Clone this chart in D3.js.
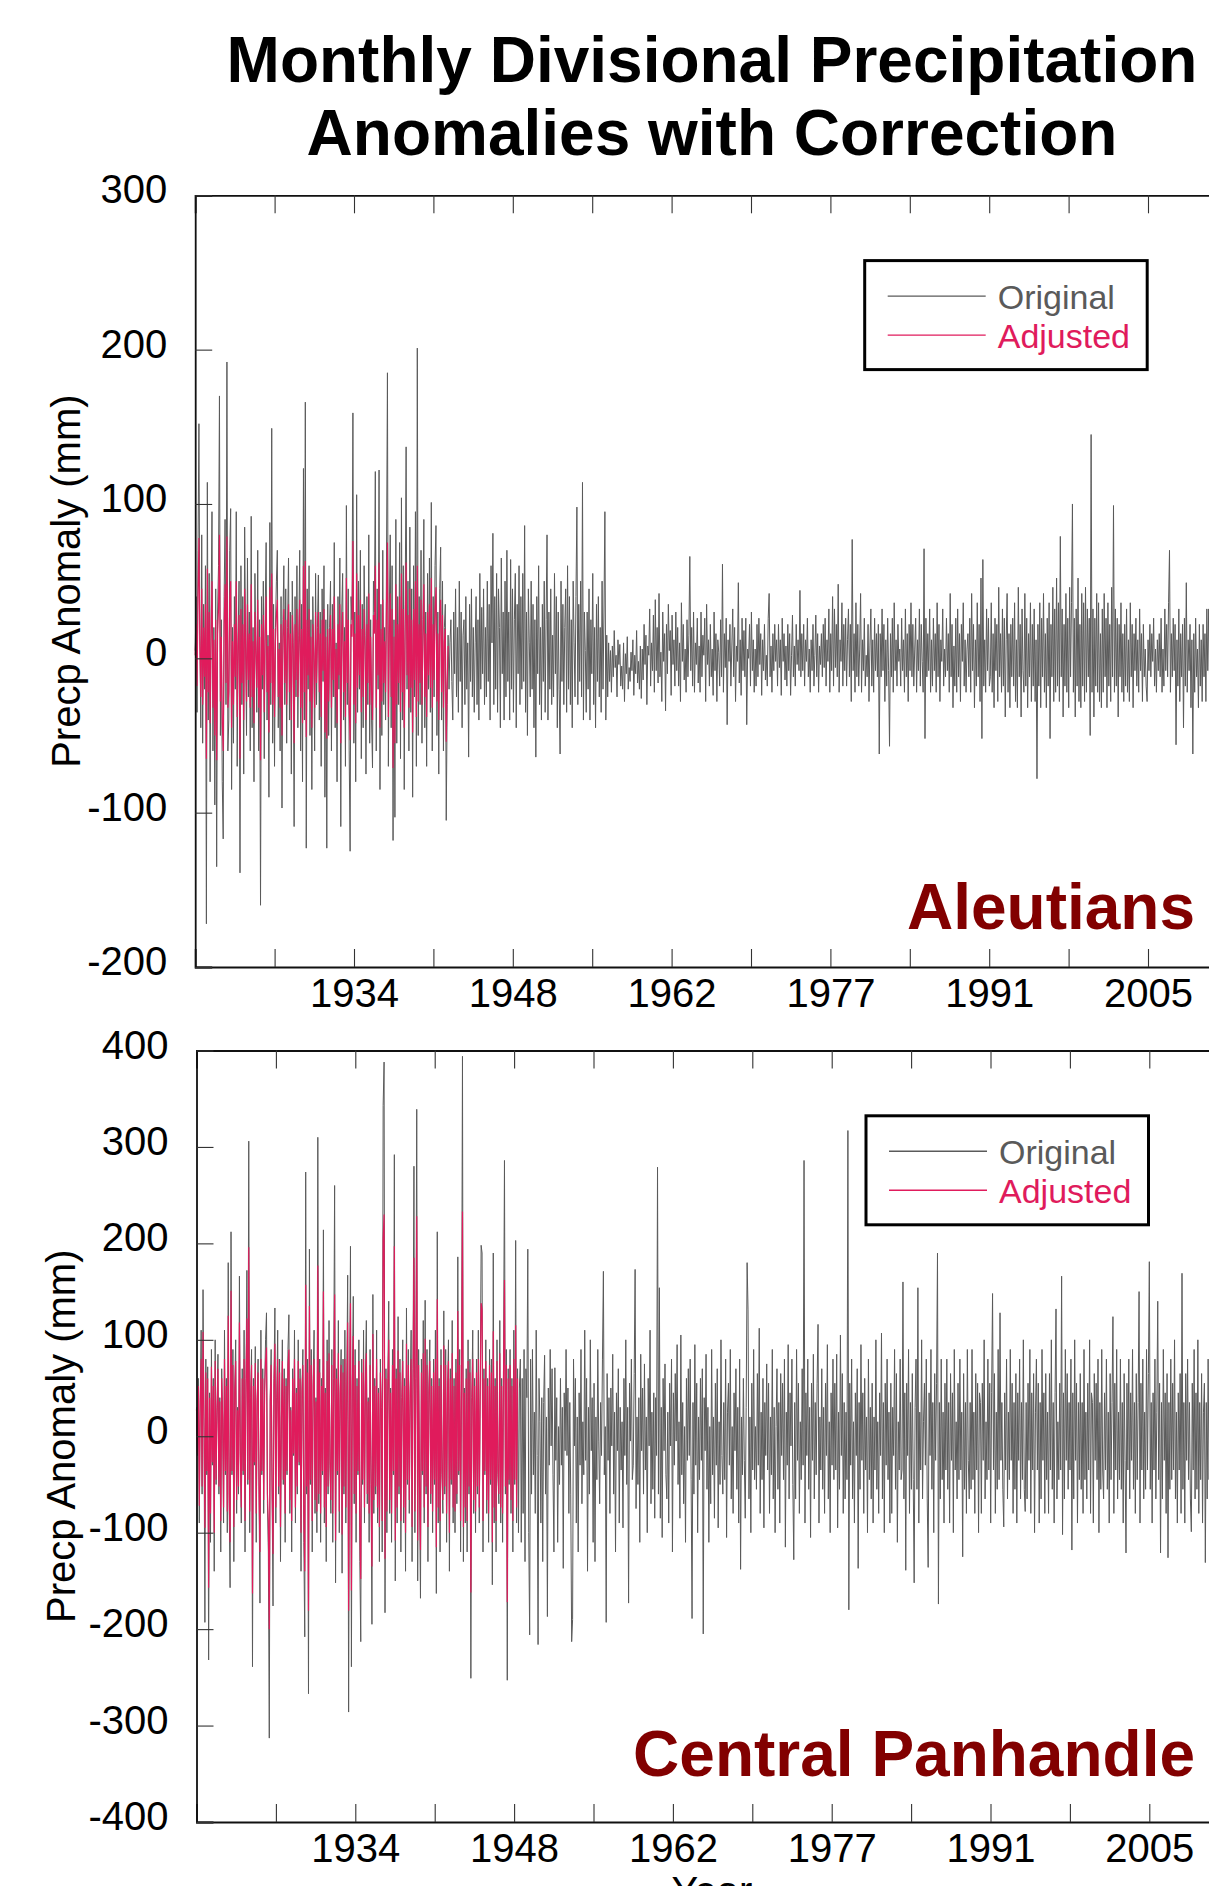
<!DOCTYPE html>
<html>
<head>
<meta charset="utf-8">
<script src="https://d3js.org/d3.v7.min.js"></script>
<style>
  html, body { margin: 0; padding: 0; background: #fff; }
  svg { display: block; font-family: "Liberation Sans", Arial, Helvetica, sans-serif; }
</style>
</head>
<body>
<div id="chart"></div>
<script>
/* Monthly anomalies (mm), one row per year, Jan..Dec, starting Jan 1920 */
var START_YEAR = 1920;

var tickYears = [1927.09, 1934.18, 1941.27, 1948.36, 1955.45, 1962.54,
                 1969.63, 1976.72, 1983.81, 1990.90, 1997.99, 2005.08];
var tickLabels = ['', '1934', '', '1948', '', '1962', '', '1977', '', '1991', '', '2005'];

var aleYTicks = [-200, -100, 0, 100, 200, 300];
var cpYTicks = [-400, -300, -200, -100, 0, 100, 200, 300, 400];

var seriesNames = ['Original', 'Adjusted'];

var aleOriginal = [
  5, 40, -35, 70, 152, 15, -45, 80, -55, 35, -20, 60,
  -172, 114, -40, 55, -80, 30, 95, -60, 20, -95, 45, -135,
  30, 60, 170, -50, 25, -80, -117, 40, 90, -30, 192, -60,
  -40, 70, 97, -85, 20, -55, 40, -20, 95, -70, 15, 50,
  -139, 60, -30, 40, -75, 85, 10, -50, 65, -25, 30, -60,
  92, -45, 20, -80, 55, 5, -35, 70, -60, 25, -160, 40,
  -20, 50, -65, 30, 75, -40, 15, -90, 88, -30, 149, -55,
  35, -70, 20, 50, 70, -45, 10, -60, 40, -97, 25, 60,
  -30, 45, -55, 20, 65, -40, 30, -75, 50, 10, -109, 40,
  -25, 60, -45, 15, 70, -60, 35, -80, 123, -40, 166, -123,
  45, -20, 60, -50, 25, -85, 40, 5, -60, 55, -30, 20,
  54, -40, 30, -70, 45, -15, 60, -90, 25, -123, 35, -50,
  20, 50, -60, 35, -25, 75, -45, 10, -80, 40, -20, 65,
  -109, 30, 55, -40, 20, -70, 99, -30, 45, -60, -125, 40,
  25, 159, -55, 30, -80, 106, -35, 50, -20, 70, -65, 35,
  -45, 60, 15, -75, 40, -30, 80, -55, 25, -40, -71, 50,
  30, 121, -60, 45, -20, 122, -85, 35, -50, 70, -30, 20,
  -40, 65, 185, -70, 30, 80, -45, 60, -118, 25, -103, 90,
  -55, 40, -30, 75, -65, 104, -40, 60, -85, 35, 137, -20,
  50, -60, 85, -35, 45, -90, 60, -25, 95, -70, 201, -50,
  40, -30, 70, -55, 25, 90, -45, 30, -70, 55, -20, 65,
  -35, 101, -60, 40, -25, 60, 86, -50, 30, -75, 45, 72,
  -40, 50, -60, 20, 35, -105, -30, 15, -20, 10, 25, -15,
  -40, 30, -10, 45, -25, 20, -35, 50, -15, 30, -45, 15,
  25, -30, 40, -20, 10, -64, 35, -15, 45, -25, 20, -35,
  10, 40, -30, 25, -40, 55, -20, 33, -10, 45, -30, 20,
  -25, 50, -15, 35, -40, 60, 10, 81, -30, 40, -20, 55,
  -35, 45, 20, -45, 65, -10, 30, -40, 50, -25, 70, -15,
  30, -40, 64, -20, 45, -35, 25, 55, -45, 35, -10, 60,
  -30, 40, -20, 55, -15, 86, -35, 30, -50, 45, 10, -25,
  50, -20, 35, -45, 25, -64, 40, -10, 60, -30, 20, -40,
  35, -15, 50, -35, 25, 80, -40, 30, -20, 45, -30, 15,
  -25, 55, -10, 40, -45, 30, -20, -62, 50, -15, 35, -30,
  20, 45, -35, 60, -20, 40, -30, 25, -45, 50, 10, -25,
  40, 98, -30, 35, -15, 50, -25, 114, -40, 30, 5, -35,
  30, -20, 45, -40, 25, -10, 55, -30, 20, -45, 35, -15,
  40, -25, 20, -35, 50, -20, 30, 95, -40, 15, -25, 10,
  -15, 5, -22, 8, -12, 18, -6, 2, -25, 12, -4, 9,
  -18, -5, -20, 10, -28, 3, -10, 14, -20, -6, -15, 4,
  -8, 12, -24, 2, -10, 18, -16, -2, -20, 8, -26, 6,
  -14, 22, -4, 15, -30, 8, 2, 32, -18, 10, -8, 28,
  -22, 38, -8, 20, -16, 42, -12, 4, -28, 30, -2, 16,
  -34, 22, -10, 35, 5, 18, -24, 28, -4, 12, -18, 30,
  -8, 20, -18, 10, -28, 36, -2, 22, -14, 6, -22, 25,
  -12, 15, 66, -8, 20, -18, 30, -22, 10, -4, 26, -16,
  8, -22, 30, -12, 15, 2, 26, -28, 35, -4, 12, -18,
  22, -12, 6, -24, 30, -8, 16, -28, 12, 4, -18, 25,
  -12, 61, -22, 16, -6, 26, -43, 12, -2, 22, -18, 8,
  32, -12, 20, -28, 8, -2, 49, -16, 12, -24, 26, -8,
  18, -12, 26, -43, 6, 0, 22, -18, 30, -8, 12, -22,
  6, -18, 22, -12, 26, -4, 16, -24, 12, -8, 22, -14,
  2, -18, 26, 42, -12, 8, -22, 16, -8, 22, -2, 12,
  -18, 22, -6, 12, -24, 26, -2, 16, -14, 8, -18, 22,
  -8, 16, -24, 2, 28, -12, 8, -18, 22, -4, 12, -8,
  44, -12, 16, -8, 22, -18, 12, -2, 26, -12, 6, -22,
  12, -8, 22, -18, 2, 28, -12, 16, -22, 8, -4, 16,
  -12, 22, -6, 26, -18, 12, -2, 32, -22, 16, -8, 40,
  -18, 32, -6, 22, -12, 48, -22, 12, -2, 36, -18, 22,
  -8, 26, -18, 12, 32, -12, 22, -28, 77, -8, 16, -22,
  36, -12, 22, -18, 6, 42, -22, 12, -8, 26, -18, 2,
  -12, 22, -28, 8, 32, -18, 12, -22, 26, -8, 16, -12,
  22, -62, 16, -12, 32, -8, 22, -28, 12, -18, 26, -8,
  -57, 16, -12, 26, -22, 36, -8, 12, -18, 22, -2, 6,
  -18, 26, -8, 12, -22, 32, -12, 16, -28, 22, -8, 36,
  -12, 22, -18, 6, 26, -22, 12, -8, 32, -18, 22, -2,
  -22, 71, -52, 26, -12, 16, -8, 32, -22, 12, -18, 26,
  -8, 16, -22, 36, -12, 22, -28, 12, -2, 32, -18, 6,
  -12, 26, -8, 16, -22, 42, -12, 22, -32, 8, -18, 26,
  -22, 32, -12, 16, -28, 22, -2, 36, -18, 12, -22, 6,
  16, -12, 26, -22, 42, -8, 22, -32, 12, -18, 36, -12,
  22, -28, 52, -52, 64, -18, 12, -22, 32, -8, 26, -18,
  -12, 36, -22, 16, -32, 26, -8, 22, -28, 46, -12, 16,
  -22, 32, -18, 26, -38, 12, 42, -22, 16, -32, 22, -12,
  26, -18, 36, -28, 12, -32, 46, -12, 22, -38, 32, -8,
  -22, 42, -18, 26, -32, 16, -12, 36, -28, 22, -18, 32,
  -28, 12, -78, 22, -18, 36, -32, 26, -12, 42, -22, 16,
  -32, 26, -18, 36, -52, 22, -12, 46, -28, 32, -22, 52,
  -18, 36, -28, 79, -12, 32, -38, 22, -18, 42, -22, 26,
  -32, 46, -12, 36, 100, -22, 26, -38, 32, -18, 52, -28,
  22, -32, 42, -18, 36, -28, 46, -22, 32, -12, 26, -50,
  145, -22, 32, -38, 26, -18, 42, -22, 36, -28, 16, -32,
  32, -22, 42, -12, 26, -32, 36, -18, 22, -28, 46, -12,
  99, -22, 32, -18, 26, -38, 22, -12, 36, -22, 16, -28,
  22, -18, 32, -22, 12, -28, 36, -12, 22, -32, 16, -8,
  26, -18, 12, -22, 32, -8, 16, -28, 22, -12, 6, -18,
  -28, 12, -8, 22, -12, 16, -2, 26, -18, 6, -22, 12,
  -8, 16, -12, 26, -22, 6, -18, 32, -8, 22, -12, 36,
  70, -22, 16, -12, 26, -8, 22, -56, 12, -18, 32, -28,
  16, -12, 22, -45, 26, -18, 49, -22, 12, -8, 22, -32,
  12, -62, 16, -22, 26, -12, 6, -32, 22, -18, 12, -28,
  22, -12, 16, -28, 32, -8, 32, -18, 22, -12, 26, -22
];

var aleAdjusted = [
  2, 22, -18, 40, 78, 8, -25, 45, -30, 20, -12, 35,
  -65, 58, -22, 30, -42, 16, 50, -32, 12, -50, 25, -66,
  16, 32, 80, -28, 14, -42, -60, 22, 48, -16, 79, -32,
  -22, 38, 50, -45, 11, -30, 22, -12, 50, -38, 8, 28,
  -65, 32, -16, 22, -40, 45, 6, -28, 35, -14, 16, -32,
  48, -25, 11, -42, 30, 3, -19, 38, -32, 14, -66, 22,
  -11, 28, -35, 16, 40, -22, 8, -48, 46, -16, 55, -30,
  19, -38, 11, 28, 38, -25, 6, -32, 22, -50, 14, 32,
  -16, 25, -30, 11, 35, -22, 16, -40, 28, 6, -55, 22,
  -14, 32, -25, 8, 38, -32, 19, -42, 60, -22, 63, -51,
  25, -11, 32, -28, 14, -45, 22, 3, -32, 30, -16, 11,
  30, -22, 16, -38, 25, -8, 32, -48, 14, -52, 19, -28,
  11, 28, -32, 19, -14, 40, -25, 6, -42, 22, -11, 35,
  -55, 16, 30, -22, 11, -38, 52, -16, 25, -32, -53, 22,
  14, 76, -30, 16, -42, 55, -19, 28, -11, 38, -35, 19,
  -25, 32, 8, -40, 22, -16, 42, -30, 14, -22, -40, 28,
  16, 60, -32, 25, -11, 62, -45, 19, -28, 38, -16, 11,
  -22, 35, 75, -38, 16, 42, -25, 32, -71, 14, -55, 48,
  -30, 22, -16, 40, -35, 55, -22, 32, -45, 19, 62, -11,
  28, -32, 45, -19, 25, -48, 32, -14, 50, -38, 60, -28,
  22, -16, 38, -30, 14, 48, -25, 16, -38, 30, -11, 35,
  -19, 52, -32, 22, -14, 32, 46, -28, 16, -40, 25, 38,
  -22, 28, -32, 11, 19, -54, -16, 8
];

var cpOriginal = [
  30, -20, 60, -90, 40, 110, -60, 152, 20, -193, 80, -40,
  72, -232, 45, -110, 90, -30, 60, -140, 100, -50, 30, 85,
  -60, 40, -120, 70, 20, -90, 110, -40, 60, -100, 180, -70,
  -157, 212, -40, 90, -130, 50, 100, -80, 30, -60, 166, -20,
  -90, 70, -40, 110, -120, 60, 172, -50, 306, -100, 40, 90,
  -239, 60, -30, 93, -110, 40, 80, -60, -173, 110, -40, 70,
  -80, 50, 100, 128, -70, -120, -313, 40, 90, -60, -176, 60,
  133, -90, 40, 110, -60, 80, -130, 20, 100, -50, 70, -110,
  60, -40, 90, 126, -80, 30, -120, 70, -20, 110, -90, 50,
  -60, 100, -30, 70, -140, 50, 90, -110, -208, 274, -60, 80,
  -267, 194, -50, 90, -120, 60, 110, -80, 40, -100, 310, -70,
  80, -110, 60, -40, 214, -90, 50, -130, 100, -60, 120, -30,
  -80, 90, -110, 60, 260, -152, 70, -40, 120, -100, 50, 90,
  -142, 80, -60, 110, -90, 50, 167, -286, 40, 197, -239, 60,
  145, -70, 90, -110, 60, -40, 100, -130, -213, 80, -50, 110,
  -90, 60, 120, -70, 40, -110, 90, -50, -195, 147, -80, 60,
  -60, 110, -90, 50, -130, 80, 30, -120, 343, 388, -183, 70,
  -100, 60, 140, -80, 50, -110, 90, -40, 292, -150, 70, -90,
  124, -60, 80, -120, 40, 100, -90, 60, -140, 133, -50, 90,
  -80, 50, 110, -130, 70, 280, -100, 60, 339, -150, 90, -60,
  -168, 80, -40, 120, -90, 141, -60, 90, -130, 50, 100, -70,
  60, -100, 80, -50, 110, -163, 212, -90, 60, -120, 90, -40,
  -80, 130, -60, 90, -110, 50, 100, -140, 70, -50, 120, -90,
  60, -100, 80, -70, 186, -40, 90, -120, 60, 394, -130, 50,
  -90, 70, -120, 100, -60, 80, -251, 40, 110, -80, 60, -100,
  80, -60, 110, -90, 50, 198, 190, -120, 70, -40, 100, -80,
  60, -110, 90, -50, 80, -154, 190, -90, 60, -120, 100, -40,
  -70, 120, -90, 60, -110, 80, 286, -60, 90, -253, 70, -50,
  90, -80, 60, -120, 110, -50, 203, -90, 70, -100, 50, 80,
  -110, 60, -80, 90, -130, 70, 40, 194, -100, -206, 80, -60,
  90, -40, 25, -80, 110, -20, -216, 60, 15, -90, 40, -130,
  35, 84, -60, 20, -187, 50, -30, 90, -10, 70, -40, -120,
  71, -25, 40, -110, 10, -50, 60, -30, 30, -137, 45, -15,
  90, -20, 50, -80, 35, -60, -213, -190, 80, -10, 60, -90,
  20, -120, 45, -30, 90, -70, 15, -40, 110, -25, 60, -140,
  30, -60, 100, -15, 40, -110, 55, -130, 20, -45, 90, -5,
  -70, 35, -20, 80, 171, -40, 10, -193, 65, -25, 40, -80,
  50, -10, 85, -60, 25, -120, 45, -15, 70, -90, 30, -35,
  15, -95, 60, -20, 100, -50, 30, -173, 55, -5, 80, -45,
  -30, 65, 173, -75, 20, -50, 40, -110, 85, -15, 50, -60,
  75, -35, 20, -100, 60, -10, 110, -70, 25, -55, 45, -85,
  40, -20, 279, -60, 154, -85, 30, -105, 60, -15, 75, -40,
  -65, 25, -90, 55, -10, 80, -120, 45, -30, 65, -5, 95,
  -50, 15, -85, 105, -40, 35, -70, 10, -110, 60, -25, 70,
  -20, 80, -45, -189, 35, -60, 95, -30, 55, -100, 20, -45,
  60, -25, 70, -205, 40, -15, 85, -55, 30, -110, 10, -70,
  90, -40, 20, -85, 55, -30, 70, -95, 15, -50, 100, -20,
  -60, 35, -45, 80, -105, 25, 55, -30, 90, -65, 10, -80,
  45, -15, 70, -55, 30, -90, 80, -138, 20, -40, 60, -25,
  -85, 30, 180, 131, -65, 20, -100, 55, -35, 90, -45, 10,
  -55, 65, -30, 112, -80, 25, -45, 60, -95, 35, -20, 75,
  -35, 55, -80, 20, -40, 90, -65, 30, -100, 10, 70, -55,
  35, -90, 65, -20, 55, -45, 80, -115, 25, -30, 95, -65,
  45, -10, 80, -50, -128, 35, -65, 90, -25, 55, -80, 15,
  -45, 70, -30, 286, -90, 45, -20, 80, -55, 30, -105, 55,
  -25, 85, -65, 35, -40, 55, 116, -90, 20, -35, 70, -55,
  30, -80, 55, -20, 95, -65, 15, -100, 45, -30, 80, -45,
  55, -35, 85, -95, 25, -55, 105, -20, 65, -80, 35, -65,
  25, -45, 317, -180, 55, -30, 80, -65, 15, -90, 45, -20,
  70, -137, 35, -55, 95, -25, 45, -80, 60, -35, 20, -100,
  80, -45, 30, -65, 55, -90, 20, -35, 100, -55, 15, -80,
  45, -20, 107, -65, 35, -100, 55, -30, 80, -45, 25, -90,
  55, -80, 30, -20, 90, -55, 65, -110, 15, -35, 80, -45,
  -35, 160, -65, 45, -139, 55, -20, 90, -80, 35, -55, 65,
  -45, -152, 30, 80, -55, 154, -90, 25, -35, 100, -65, 15,
  55, -30, 80, -65, -136, 45, -20, 90, -55, 35, -100, 65,
  -25, 55, 190, -174, 35, -65, 80, -45, 25, -90, 55, -35,
  80, -55, 35, -90, 65, -25, 45, -100, 90, -35, 15, -65,
  55, -45, 80, -35, 25, -125, 65, -55, 35, -80, 90, -25,
  -65, 35, -55, 90, -45, 25, -80, 65, -35, 55, -100, 45,
  35, -80, 55, -25, 100, -65, 15, -45, 80, -35, 55, -90,
  45, 148, -35, 65, -80, 25, -55, 90, -45, 128, -25, 35,
  -55, -94, 45, -35, 80, -65, 25, -45, 90, -25, 55, -80,
  35, -55, 65, -90, 45, -25, 80, -65, 35, -45, 100, -55,
  -78, 35, -65, 55, -25, 90, -80, 45, -35, 65, -100, 25,
  80, -35, 55, -90, 35, -65, 90, -25, 45, -80, 65, -45,
  25, -80, 65, -35, 100, -55, 35, -90, 45, 132, -65, 15,
  -45, 55, -35, 166, -102, 45, -65, 90, -25, 65, -55, 35,
  -35, 80, -118, 45, -65, 100, -25, 55, -90, 35, -45, 65,
  -55, 35, -80, 90, -45, 25, -65, 55, -35, 100, -80, 45,
  35, -90, 65, -25, 55, -45, 80, -100, 35, -55, 90, -35,
  -65, 45, -35, 80, -55, 25, -90, 65, -45, 35, 124, -80,
  55, -35, 90, -65, 25, -45, 80, -55, 35, -90, 65, -25,
  -121, 55, -35, 80, -65, 45, -25, 90, -55, 35, -80, 65,
  -45, 35, 150, -90, 55, -35, 80, -65, 25, -55, 90, -35,
  65, 181, -55, 35, -90, 45, -35, 80, -65, 25, 140, -45,
  55, -121, 35, -65, 90, -25, 45, -80, 65, -126, 35, -55,
  80, -45, 55, -35, 100, -65, 25, -90, 45, -35, 65, -80,
  169, -55, 35, -90, 65, -25, 80, -45, 35, -65, -99, 55,
  -35, 90, -65, 45, -55, 100, -80, 35, -45, 65, -90, 25,
  55, -131, 35, -65, 80, -45, 25, -55, 65, -35, 45, -80
];

var cpAdjusted = [
  28, -18, 52, -72, 36, 80, -52, 108, 18, -95, 66, -36,
  60, -157, 40, -80, 72, -27, 52, -100, 78, -45, 27, 70,
  -52, 36, -88, 60, 18, -74, 80, -36, 52, -78, 125, -60,
  -110, 151, -36, 74, -94, 45, 78, -66, 27, -52, 118, -18,
  -74, 60, -36, 80, -88, 52, 122, -45, 196, -78, 36, 74,
  -163, 52, -27, 76, -80, 36, 66, -52, -120, 80, -36, 60,
  -66, 45, 78, 92, -60, -88, -200, 36, 74, -52, -122, 52,
  96, -74, 36, 80, -52, 66, -94, 18, 78, -45, 60, -80,
  52, -36, 74, 90, -66, 27, -88, 60, -18, 80, -74, 45,
  -52, 78, -27, 60, -100, 45, 74, -80, -140, 157, -52, 66,
  -181, 135, -45, 74, -88, 52, 80, -66, 36, -78, 177, -60,
  66, -80, 52, -36, 150, -74, 45, -94, 78, -52, 86, -27,
  -66, 74, -80, 52, 147, -108, 60, -36, 86, -78, 45, 74,
  -102, 66, -52, 80, -74, 45, 118, -181, 36, 138, -160, 52,
  104, -60, 74, -80, 52, -36, 78, -94, -148, 66, -45, 80,
  -74, 52, 86, -60, 36, -80, 74, -45, -135, 106, -66, 52,
  -52, 80, -74, 45, -94, 66, 27, -88, 205, 230, -127, 60,
  -78, 52, 100, -66, 45, -80, 74, -36, 197, -108, 60, -74,
  89, -52, 66, -88, 36, 78, -74, 52, -100, 96, -45, 74,
  -66, 45, 80, -94, 60, 185, -78, 52, 228, -108, 74, -52,
  -118, 66, -36, 86, -74, 101, -52, 74, -94, 45, 78, -60,
  52, -78, 66, -45, 80, -115, 142, -74, 52, -88, 74, -36,
  -66, 94, -52, 74, -80, 45, 78, -100, 60, -45, 86, -74,
  52, -78, 66, -60, 130, -36, 74, -88, 52, 233, -94, 45,
  -74, 60, -88, 78, -52, 66, -162, 36, 80, -66, 52, -78,
  66, -52, 80, -74, 45, 138, 132, -88, 60, -36, 78, -66,
  52, -80, 74, -45, 66, -110, 109, -74, 52, -88, 78, -36,
  -60, 86, -74, 52, -80, 66, 162, -52, 74, -172, 60, -45,
  74, -66, 52, -88, 80, -45, 115, -74, 60
];

var COLOR_ORIG = '#5a5a5a';
var COLOR_ADJ = '#e01b5c';
var COLOR_LABEL = '#820000';

var W = 1209, H = 1886;

var svg = d3.select('#chart').append('svg')
  .attr('width', W)
  .attr('height', H)
  .attr('viewBox', [0, 0, W, H].join(' '));

svg.append('rect').attr('width', W).attr('height', H).attr('fill', '#fff');

/* ---- Title ---- */
var title = svg.append('text')
  .attr('text-anchor', 'middle')
  .attr('font-size', 64)
  .attr('font-weight', 'bold')
  .attr('fill', '#000');
title.append('tspan').attr('x', 712).attr('y', 82).text('Monthly Divisional Precipitation');
title.append('tspan').attr('x', 712).attr('y', 155).text('Anomalies with Correction');

function drawPanel(cfg) {
  var x = d3.scaleLinear()
    .domain([START_YEAR, START_YEAR + 13 * 7.09])
    .range([cfg.left, cfg.left + 13 * 79.4]);
  var y = d3.scaleLinear()
    .domain(cfg.yDomain)
    .range([cfg.bottom, cfg.top]);

  var g = svg.append('g');

  var line = d3.line()
    .x(function(d, i) { return x(START_YEAR + i / 12); })
    .y(function(d) { return y(d); });

  g.append('path')
    .datum(cfg.original)
    .attr('fill', 'none')
    .attr('stroke', COLOR_ORIG)
    .attr('stroke-width', 1.0)
    .attr('d', line);

  g.append('path')
    .datum(cfg.adjusted)
    .attr('fill', 'none')
    .attr('stroke', COLOR_ADJ)
    .attr('stroke-width', 1.15)
    .attr('d', line);

  /* ---- Axes: bottom ticks+labels, top ticks, left ticks+labels ---- */
  var xAxisB = d3.axisBottom(x)
    .tickValues(tickYears)
    .tickSize(-18)
    .tickPadding(10)
    .tickFormat(function(d, i) { return tickLabels[i]; });
  var gxb = g.append('g')
    .attr('transform', 'translate(0,' + cfg.bottom + ')')
    .call(xAxisB);

  var xAxisT = d3.axisTop(x)
    .tickValues(tickYears)
    .tickSize(-18)
    .tickFormat('');
  var gxt = g.append('g')
    .attr('transform', 'translate(0,' + cfg.top + ')')
    .call(xAxisT);

  var yAxis = d3.axisLeft(y)
    .tickValues(cfg.yTicks)
    .tickSize(-17)
    .tickFormat(function(d) { return String(d); });
  var gy = g.append('g')
    .attr('transform', 'translate(' + cfg.left + ',0)')
    .call(yAxis);

  [gxb, gxt, gy].forEach(function(ax) {
    ax.select('.domain').attr('stroke', '#111').attr('stroke-width', 1.8);
    ax.selectAll('.tick line').attr('stroke', '#333').attr('stroke-width', 1.1);
    ax.selectAll('.tick text')
      .attr('fill', '#000')
      .attr('font-size', 40)
      .attr('font-family', '"Liberation Sans", Arial, sans-serif');
  });

  gxb.selectAll('.tick text').attr('y', 39.5).attr('dy', 0);
  gy.selectAll('.tick text').attr('x', -28).attr('dy', 7.5);

  /* ---- Y title ---- */
  g.append('text')
    .attr('transform', 'translate(' + cfg.yTitleX + ',' + ((cfg.top + cfg.bottom) / 2) + ') rotate(-90)')
    .attr('text-anchor', 'middle')
    .attr('font-size', 40)
    .attr('fill', '#000')
    .text('Precp Anomaly (mm)');

  /* ---- Region label ---- */
  g.append('text')
    .attr('x', 1195)
    .attr('y', cfg.labelY)
    .attr('text-anchor', 'end')
    .attr('font-size', 64)
    .attr('font-weight', 'bold')
    .attr('fill', COLOR_LABEL)
    .text(cfg.label);

  /* ---- Legend ---- */
  var lg = g.append('g')
    .attr('transform', 'translate(' + (cfg.left + 669.5) + ',' + (cfg.top + 65.3) + ')');
  lg.append('rect')
    .attr('width', 282.5)
    .attr('height', 109)
    .attr('fill', '#fff')
    .attr('stroke', '#000')
    .attr('stroke-width', 3);
  var items = lg.selectAll('g.item')
    .data(seriesNames)
    .enter().append('g')
    .attr('class', 'item')
    .attr('transform', function(d, i) { return 'translate(0,' + (35.5 + i * 39) + ')'; });
  items.append('line')
    .attr('x1', 23).attr('x2', 121)
    .attr('stroke', function(d, i) { return i === 0 ? COLOR_ORIG : COLOR_ADJ; })
    .attr('stroke-width', 1.4);
  items.append('text')
    .attr('x', 133)
    .attr('y', 12.5)
    .attr('font-size', 34)
    .attr('fill', function(d, i) { return i === 0 ? COLOR_ORIG : COLOR_ADJ; })
    .text(function(d) { return d; });

  return x;
}

drawPanel({
  left: 195.2, top: 195.3, bottom: 967,
  yDomain: [-200, 300], yTicks: aleYTicks,
  original: aleOriginal, adjusted: aleAdjusted,
  label: 'Aleutians', labelY: 929, yTitleX: 80
});

drawPanel({
  left: 196.5, top: 1050.5, bottom: 1822,
  yDomain: [-400, 400], yTicks: cpYTicks,
  original: cpOriginal, adjusted: cpAdjusted,
  label: 'Central Panhandle', labelY: 1776, yTitleX: 75
});

/* x-axis title, partly below the picture's edge as in the source image */
svg.append('text')
  .attr('x', 712)
  .attr('y', 1905)
  .attr('text-anchor', 'middle')
  .attr('font-size', 40)
  .attr('fill', '#000')
  .text('Year');
</script>
</body>
</html>
